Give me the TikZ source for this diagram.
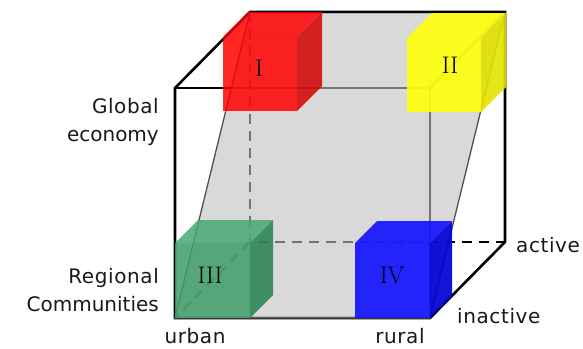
\documentclass[tikz,border=0pt]{standalone}
\usepackage{fontspec}
\newfontfamily\labfont[LetterSpace=3]{DejaVu Sans}
\newfontfamily\labnarrow{DejaVu Sans}
\definecolor{planegray}{RGB}{192,192,192}
\definecolor{planeedge}{RGB}{80,80,80}
\definecolor{labcol}{RGB}{25,25,25}
\definecolor{redside}{RGB}{212,0,0}
\definecolor{yelfront}{RGB}{255,255,10}
\definecolor{yelside}{RGB}{226,226,0}
\definecolor{grnfront}{RGB}{62,159,105}
\definecolor{grntop}{RGB}{72,168,114}
\definecolor{grnside}{RGB}{38,128,78}
\definecolor{blufront}{RGB}{20,20,255}
\definecolor{bluside}{RGB}{0,0,212}
% #1 x, #2 y (front top-left), #3 size, #4 depth, #5 front, #6 top, #7 side, #8 opacity
\newcommand\mycube[8]{%
  \fill[#5,fill opacity=#8] (#1,#2) rectangle ++(#3,#3);
  \fill[#6,fill opacity=#8] (#1,#2) -- ++(#4,-#4) -- ++(#3,0) -- ++(-#4,#4) -- cycle;
  \fill[#7,fill opacity=#8] (#1+#3,#2) -- ++(#4,-#4) -- ++(0,#3) -- ++(-#4,#4) -- cycle;
}
\begin{document}
\begin{tikzpicture}[x=1pt,y=-1pt,
  edge/.style={line width=2.6pt, draw=black, line join=miter},
  hidden/.style={line width=2.4pt, draw=black, dash pattern=on 10pt off 7pt},
  plane/.style={fill=planegray, fill opacity=0.6, draw=planeedge, line width=1.3pt},
  lab/.style={font=\labfont\fontsize{20}{28}\selectfont, text=labcol, inner sep=0pt},
  num/.style={font=\fontsize{24}{24}\selectfont, text=black, inner sep=0pt}]
\useasboundingbox (0,0) rectangle (583,348);
% big cube corners
\coordinate (f1) at (175,88);
\coordinate (f2) at (430,88);
\coordinate (f3) at (430,318);
\coordinate (f4) at (175,318);
\coordinate (b1) at (250,12);
\coordinate (b2) at (505,12);
\coordinate (b3) at (505,242);
\coordinate (b4) at (250,242);
% hidden edges
\draw[hidden] (b1) -- (b4) -- (b3);
\draw[hidden] (b4) -- (f4);
% visible inner edges
\draw[edge] (f1) -- (f2) -- (f3);
\draw[edge] (f2) -- (b2);
% silhouette
\draw[edge] (f1) -- (b1) -- (b2) -- (b3) -- (f3) -- (f4) -- cycle;
% diagonal plane
\draw[plane] (b1) -- (b2) -- (f3) -- (f4) -- cycle;
\draw[edge] (b1) -- (b2) -- (b3);
% small cubes
\mycube{223}{37}{74}{25}{red}{red}{redside}{0.85}
\mycube{407}{38}{74}{25}{yelfront}{yelfront}{yelside}{0.9}
\mycube{175}{243}{75}{23}{grnfront}{grntop}{grnside}{0.85}
\mycube{355}{243}{75}{22}{blufront}{blufront}{bluside}{0.92}
% numerals
\node[num, anchor=base] (n1) at (259,76) {I};
\node[num, anchor=base] (n2) at (450,73) {II};
\node[num, anchor=base] (n3) at (210,283) {III};
\node[num, anchor=base] (n4) at (392,283) {IV};
% labels
\node[lab, align=right, anchor=east] (glob) at (159,122) {\labfont\fontsize{20}{28}\selectfont Global\\\labnarrow\fontsize{20}{28}\selectfont economy};
\node[lab, align=right, anchor=east] (reg) at (159,290) {\labfont\fontsize{20}{28}\selectfont Regional\\\labnarrow\fontsize{20}{28}\selectfont Communities};
\node[lab, anchor=base] (urb) at (195,343) {urban};
\node[lab, anchor=base] (rur) at (400,343) {rural};
\node[lab, anchor=base west] (inact) at (457,323) {inactive};
\node[lab, anchor=base west] (act) at (516,252) {active};
\end{tikzpicture}
\end{document}
